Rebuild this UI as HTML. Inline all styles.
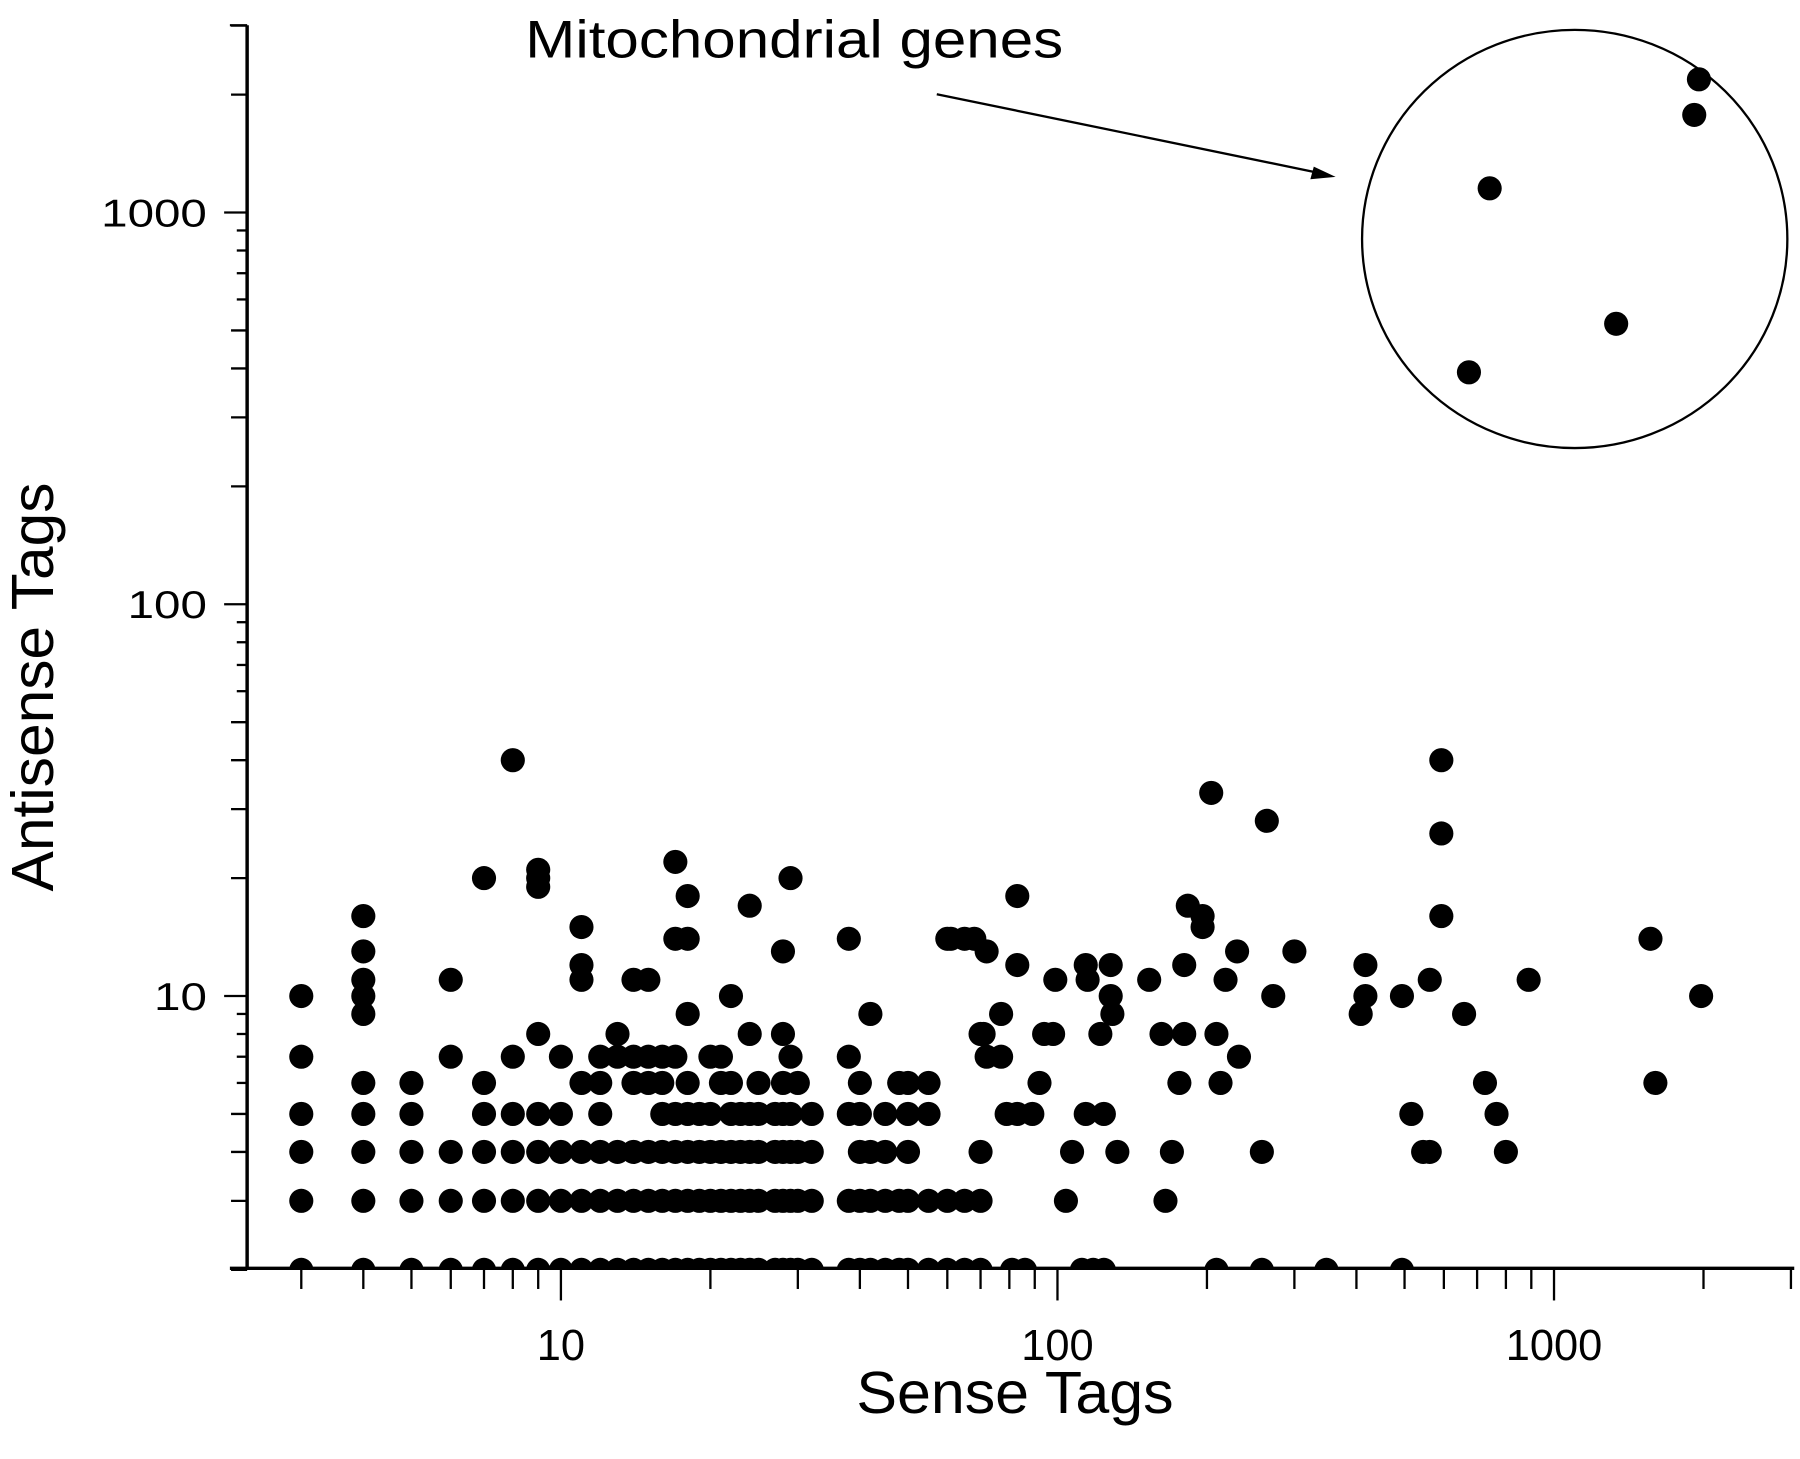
<!DOCTYPE html>
<html><head><meta charset="utf-8"><style>
html,body{margin:0;padding:0;background:#fff;}
svg{display:block;}
text{font-family:"Liberation Sans",Arial,sans-serif;fill:#000;}
</style></head><body>
<svg id="chart" width="1800" height="1459" viewBox="0 0 1566 1270" preserveAspectRatio="none" xmlns="http://www.w3.org/2000/svg">
<defs><clipPath id="plotclip"><rect x="215" y="0" width="1360" height="1104"/></clipPath></defs>
<g id="axes"></g>
<g id="dots" clip-path="url(#plotclip)"></g>
<ellipse cx="1370" cy="208" rx="185" ry="182" fill="none" stroke="#000" stroke-width="2"/>
<text x="457" y="50" font-size="46" textLength="468" lengthAdjust="spacingAndGlyphs">Mitochondrial genes</text>
<line x1="815" y1="82" x2="1145" y2="150" stroke="#000" stroke-width="2"/>
<polygon points="1162,154 1140,156 1143,145" fill="#000"/>
<text x="745" y="1230" font-size="52" textLength="276" lengthAdjust="spacingAndGlyphs">Sense Tags</text>
<text transform="translate(46,776) rotate(-90)" font-size="52" textLength="356" lengthAdjust="spacingAndGlyphs">Antisense Tags</text>
</svg>
<script>
// dense integer columns: sense value and its antisense values
const colSense = [3,4,5,6,7,8,9,10,11,12,13,14,15,16,17,18,19,20,21,22,23,24,25,27,28,29,30,32,38,40,42,45,48,50,55,60,65,70];
const colAntisense = [
 [10,7,5,4,3,2],[16,13,11,10,9,6,5,4,3,2],[6,5,4,3,2],[11,7,4,3,2],[20,6,5,4,3,2],
 [40,7,5,4,3,2],[21,20,19,8,5,4,3,2],[7,5,4,3,2],[15,12,11,6,4,3,2],[7,6,5,4,3,2],
 [8,7,4,3,2],[11,7,6,4,3,2],[11,7,6,4,3,2],[7,6,5,4,3,2],[22,14,7,5,4,3,2],
 [18,14,9,6,5,4,3,2],[5,4,3,2],[7,5,4,3,2],[7,6,4,3,2],[10,6,5,4,3,2],[5,4,3,2],
 [17,8,5,4,3,2],[6,5,4,3,2],[5,4,3,2],[13,8,6,5,4,3,2],[20,7,5,4,3,2],[6,4,3,2],
 [5,4,3,2],[14,7,5,3,2],[6,5,4,3,2],[9,4,3,2],[5,4,3,2],[6,3,2],[6,5,4,3,2],
 [6,5,3,2],[14,3,2],[14,3,2],[8,4,3,2]
];
// scattered genes
const senseTags = [61,68,72,71,77,77,72,79,83,83,83,81,86,
 92,94,98,99,89,104,107,114,114,115,122,124,128,128,129,132,112,118,124,
 153,162,165,170,176,180,180,183,196,196,209,213,218,230,204,232,258,264,272,300,209,258,348,494,
 408,417,417,494,516,545,562,562,593,593,593,659,726,766,800,889,1564,1600,1978];
const antisenseTags = [14,14,13,8,9,7,7,5,5,18,12,2,2,
 6,8,8,11,5,3,4,5,12,11,8,5,12,10,9,4,2,2,2,
 11,8,3,4,6,8,12,17,16,15,8,6,11,13,33,7,4,28,10,13,2,2,2,2,
 9,12,10,10,5,4,4,11,40,26,16,9,6,5,4,11,14,6,10];
// mitochondrial genes
const mitoSense = [674,742,1334,1916,1958];
const mitoAntisense = [391,1153,520,1775,2188];
const xTickLabels = ["10","100","1000"];
const yTickLabels = ["10","100","1000"];

const NS="http://www.w3.org/2000/svg";
const xS = v => 488 + 432*Math.log10(v/10);
const yS = v => 867 - 341*Math.log10(v/10);
function mk(tag, attrs, parent){const e=document.createElementNS(NS,tag);for(const k in attrs)e.setAttribute(k,attrs[k]);parent.appendChild(e);return e;}
const axes=document.getElementById('axes'), dots=document.getElementById('dots');

function dot(sx, ay, nm){
  const c=mk('circle',{cx:xS(sx),cy:yS(ay),r:10.5,fill:'#000'},dots);
  
  
}
colSense.forEach((s,i)=>colAntisense[i].forEach(a=>dot(s,a,'gene-point')));
senseTags.forEach((s,i)=>dot(s,antisenseTags[i],'gene-point'));
mitoSense.forEach((s,i)=>dot(s,mitoAntisense[i],'mito-point'));

let l=mk('line',{x1:215,y1:22,x2:215,y2:1105,stroke:'#000','stroke-width':3},axes);


l=mk('line',{x1:200,y1:1104,x2:1561,y2:1104,stroke:'#000','stroke-width':3},axes);


mk('line',{x1:200,y1:22,x2:215,y2:22,stroke:'#000','stroke-width':2},axes);

for(let d=1;d<=1000;d*=10){for(let m=1;m<10;m++){const v=d*m; if(v<3||v>3000)continue;
  const major=(m===1);const x=xS(v);
  const t=mk('line',{x1:x,y1:1104,x2:x,y2:1104+(major?28:18),stroke:'#000','stroke-width':2},axes);
  
  
}}
xTickLabels.forEach(s=>{const w=s.length*21;const t=mk('text',{x:xS(+s)-w/2,y:1184,'font-size':38,textLength:w,lengthAdjust:'spacingAndGlyphs'},axes);t.textContent=s;
  
  });
for(let d=1;d<=1000;d*=10){for(let m=1;m<10;m++){const v=d*m; if(v<2||v>3000)continue;
  const major=(m===1);const y=yS(v);
  const len=major?20:(m<=5?14:9);
  const t=mk('line',{x1:215-len,y1:y,x2:215,y2:y,stroke:'#000','stroke-width':2},axes);
  
  
}}
yTickLabels.forEach(s=>{const w=s.length*23;const t=mk('text',{x:180-w,y:yS(+s)+12,'font-size':34,textLength:w,lengthAdjust:'spacingAndGlyphs'},axes);t.textContent=s;
  
  });
</script>
</body></html>
